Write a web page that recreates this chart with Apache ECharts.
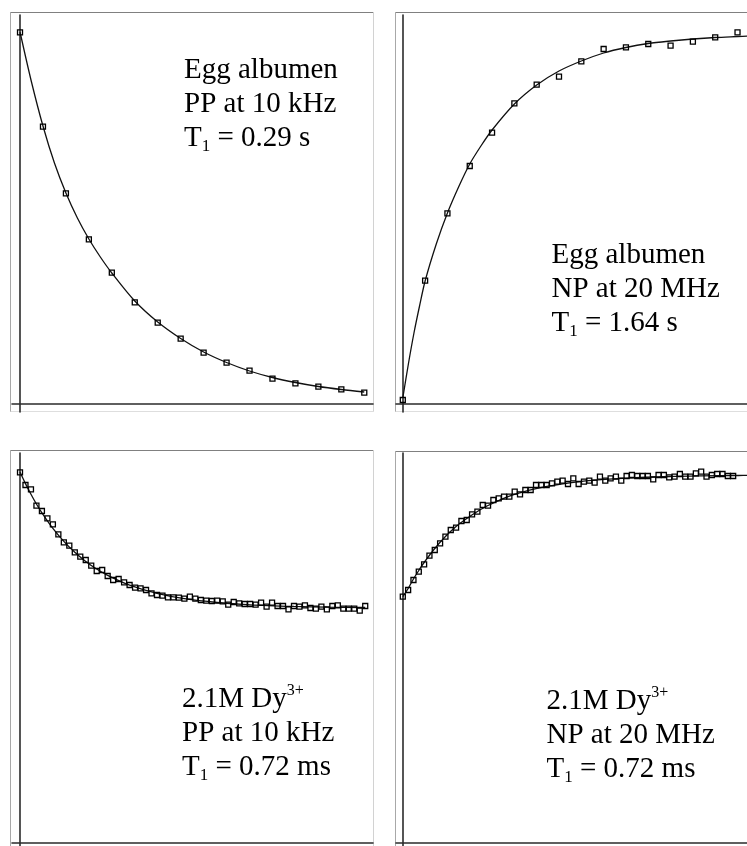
<!DOCTYPE html>
<html>
<head>
<meta charset="utf-8">
<script src="https://cdn.jsdelivr.net/npm/echarts@6/dist/echarts.min.js"></script>
<style>
html,body{margin:0;padding:0;background:#fff;}
#chart{width:747px;height:846px;}
</style>
</head>
<body>
<div id="chart"></div>
<script>
// ---------- Panel 1: Egg albumen, PP at 10 kHz (decay) ----------
const p1Index  = [0,1,2,3,4,5,6,7,8,9,10,11,12,13,14,15];
const p1Signal = [371.7,277.3,210.7,164.7,131.3,101.7,81.3,65.3,51.3,41.3,33.3,25.3,20.7,17.3,14.7,11.3];
const p1FitIndex = [0,0.5,1,1.5,2,2.5,3,3.5,4,5,6,7,8,9,10,11,12,13,14,15];
const p1Fit      = [372,322,278,241,211,186,165,147,131,103,82,65.5,52,41.5,33,26.5,21.5,17.5,14.5,12];

// ---------- Panel 2: Egg albumen, NP at 20 MHz (recovery) ----------
const p2Index  = [0,1,2,3,4,5,6,7,8,9,10,11,12,13,14,15];
const p2Signal = [4,123.3,190.7,238,271.3,300.7,319.3,327.3,342.7,355,356.7,360,358.3,362.3,366.7,371.7];
const p2FitIndex = [0,0.25,0.5,0.75,1,1.5,2,2.5,3,3.5,4,5,6,7,8,9,10,11,12,13,14,15,15.5];
const p2Fit      = [6,40,71,98,123,160,191,217,240,258,274,300,319,333,343,351,356.5,360.5,363,365,366.5,367.5,368];

// ---------- Panel 3: 2.1M Dy3+, PP at 10 kHz ----------
const p3Index = [0,1,2,3,4,5,6,7,8,9,10,11,12,13,14,15,16,17,18,19,20,21,22,23,24,25,26,27,28,29,30,31,
                 32,33,34,35,36,37,38,39,40,41,42,43,44,45,46,47,48,49,50,51,52,53,54,55,56,57,58,59,60,61,62,63];
const p3Signal = [370.7,358,353.7,337.3,332,324.7,318.7,308.7,300.7,297.3,290.7,286.3,283,277.3,272,273,
                  267,263,264,260.7,258,255.3,254.7,253,249.7,248,247.3,245.7,245.7,245.3,244.3,246.3,
                  244.3,243,242.3,242,242.3,241.7,238.3,241,239.7,239,239,238.3,240.3,236.3,240.3,237,
                  237,233.7,237,236.3,237.7,235,234.3,236.3,233.7,237,237.7,234.3,234.3,234.3,232.3,237];
const p3FitIndex = [0,1,2,3,4,6,8,10,12,14,16,20,25,30,36,42,50,56,63];
const p3Fit      = [371,359.4,348.8,339,330.2,314.6,301.6,290.7,281.6,274,267.6,257.8,249.6,244.3,240.5,238.2,236.6,235.9,235.5];

// ---------- Panel 4: 2.1M Dy3+, NP at 20 MHz ----------
const p4Index = [0,1,2,3,4,5,6,7,8,9,10,11,12,13,14,15,16,17,18,19,20,21,22,23,24,25,26,27,28,29,30,31,
                 32,33,34,35,36,37,38,39,40,41,42,43,44,45,46,47,48,49,50,51,52,53,54,55,56,57,58,59,60,61,62];
const p4Signal = [246.3,253,263,271.3,278.7,287.3,293,299.7,306.3,313,315.3,322,323,328.7,331.3,338,
                  337.3,343,344.7,346.3,346.3,351.3,348.7,353,353,358,358,358,359.7,361.3,362.3,359,
                  364.7,359,361.3,362.3,360.3,366.3,362.3,364.7,366.3,362.3,367,368,367,367,367,363.7,
                  368,368,365.7,366.3,369,366.3,366.3,369.7,371.3,366.3,368,369,369,367,367];
const p4FitIndex = [0,1,2,3,4,6,8,10,12,14,16,20,25,30,36,42,50,56,63,65];
const p4Fit      = [246.3,254.5,264,272.5,280.5,294.5,306.5,316.5,324.5,331.5,337.5,346.9,354.4,359.2,362.8,364.9,366.5,367.1,367.5,367.6];

// ---------- Panel labels ----------
const labels = [
  '{a|Egg albumen}\n{a|PP at 10 kHz}\n{a|T}{sub|1}{a| = 0.29 s}',
  '{a|Egg albumen}\n{a|NP at 20 MHz}\n{a|T}{sub|1}{a| = 1.64 s}',
  '{a|2.1M Dy}{sup|3+}\n{a|PP at 10 kHz}\n{a|T}{sub|1}{a| = 0.72 ms}',
  '{a|2.1M Dy}{sup|3+}\n{a|NP at 20 MHz}\n{a|T}{sub|1}{a| = 0.72 ms}'
];

const pairs = (xs, ys) => xs.map((x, i) => [x, ys[i]]);
const SERIF = "'Liberation Serif','Times New Roman',serif";
const rich = {
  a:   {fontFamily: SERIF, fontSize: 29, lineHeight: 34, color: '#000'},
  sub: {fontFamily: SERIF, fontSize: 17, lineHeight: 19, verticalAlign: 'bottom', color: '#000'},
  sup: {fontFamily: SERIF, fontSize: 16, lineHeight: 16, verticalAlign: 'top', color: '#000'}
};

const grids = [
  {left: 12,  top: 15,  width: 361, height: 397},
  {left: 396, top: 15,  width: 361, height: 397},
  {left: 12,  top: 453, width: 361, height: 393},
  {left: 396, top: 453, width: 361, height: 393}
];
const xRanges = [[-0.349, 15.38], [-0.305, 15.425], [-1.46, 64.42], [-1.277, 64.6]];
const yRanges = [[-8, 389], [-8, 389], [-3, 390], [-3, 390]];

const axisBase = {
  type: 'value',
  axisLine: {show: true, onZero: true, lineStyle: {color: '#2b2b2b', width: 1.6}},
  axisTick: {show: false},
  axisLabel: {show: false},
  splitLine: {show: false}
};

const xAxes = xRanges.map((r, i) => Object.assign({}, axisBase, {gridIndex: i, min: r[0], max: r[1]}));
const yAxes = yRanges.map((r, i) => Object.assign({}, axisBase, {gridIndex: i, min: r[0], max: r[1]}));

const fits = [pairs(p1FitIndex, p1Fit), pairs(p2FitIndex, p2Fit), pairs(p3FitIndex, p3Fit), pairs(p4FitIndex, p4Fit)];
const pts  = [pairs(p1Index, p1Signal), pairs(p2Index, p2Signal), pairs(p3Index, p3Signal), pairs(p4Index, p4Signal)];
const symSize = [5, 5, 5, 5];

const series = [];
for (let i = 0; i < 4; i++) {
  series.push({
    type: 'line', xAxisIndex: i, yAxisIndex: i, data: fits[i],
    smooth: 0.3, showSymbol: false, symbol: 'none',
    lineStyle: {color: '#111', width: 1.3}, silent: true, animation: false, z: 3
  });
  series.push({
    type: 'scatter', xAxisIndex: i, yAxisIndex: i, data: pts[i],
    symbol: 'rect', symbolSize: symSize[i],
    itemStyle: {color: 'rgba(255,255,255,0)', borderColor: '#000', borderWidth: 1.3, opacity: 1},
    silent: true, animation: false, z: 4
  });
}

const titles = [
  {left: 184, top: 53},
  {left: 551.5, top: 238.5},
  {left: 182, top: 682.5},
  {left: 546.5, top: 684.5}
].map((p, i) => ({
  left: p.left, top: p.top, padding: 0, text: labels[i],
  textStyle: {fontFamily: SERIF, fontSize: 29, fontWeight: 'normal', lineHeight: 34, color: '#000', rich: rich}
}));

function line(x1, y1, x2, y2, c) {
  return {type: 'line', silent: true, z: 0, shape: {x1, y1, x2, y2}, style: {stroke: c, lineWidth: 1}};
}
const frames = [
  // panel 1
  line(10.5, 12.5, 374, 12.5, '#808080'), line(10.5, 12, 10.5, 412, '#a8a8a8'),
  line(373.5, 12, 373.5, 412, '#d2d2d2'), line(10.5, 411.5, 374, 411.5, '#dedede'),
  // panel 2
  line(395.5, 12.5, 747, 12.5, '#808080'), line(395.5, 12, 395.5, 412, '#a8a8a8'),
  line(395.5, 411.5, 747, 411.5, '#dedede'),
  // panel 3
  line(10.5, 450.5, 374, 450.5, '#808080'), line(10.5, 450, 10.5, 846, '#a8a8a8'),
  line(373.5, 450, 373.5, 846, '#d2d2d2'),
  // panel 4
  line(395.5, 451.5, 747, 451.5, '#808080'), line(395.5, 451, 395.5, 846, '#a8a8a8')
];

const chart = echarts.init(document.getElementById('chart'), null, {renderer: 'canvas'});
chart.setOption({
  backgroundColor: '#fff',
  animation: false,
  title: titles,
  grid: grids,
  xAxis: xAxes,
  yAxis: yAxes,
  series: series,
  graphic: {elements: frames}
});
</script>
</body>
</html>
